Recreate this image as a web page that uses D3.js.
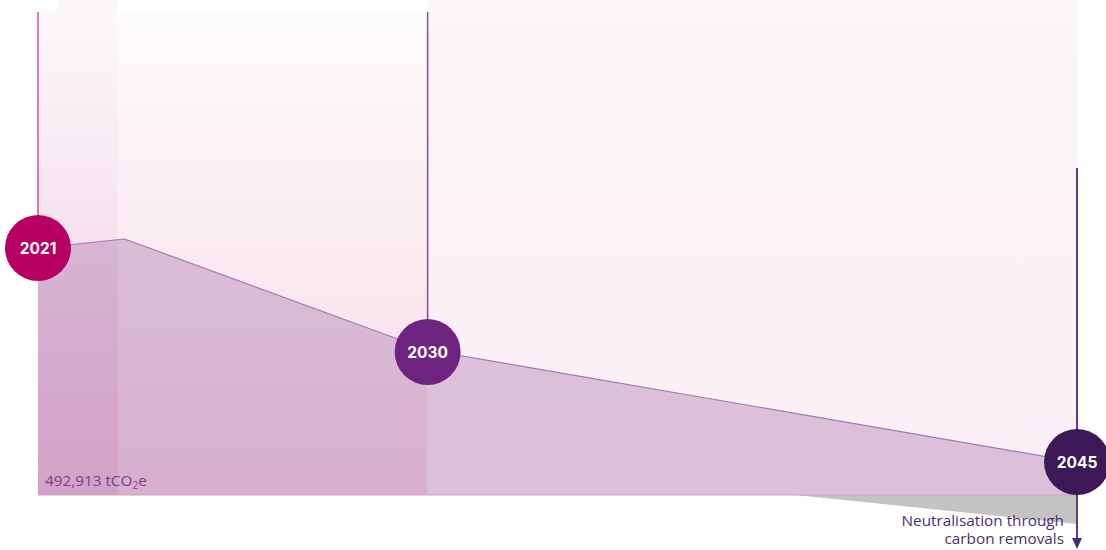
<!DOCTYPE html>
<meta charset="utf-8">
<script src="https://d3js.org/d3.v7.min.js"></script>
<style>
  body { margin: 0; background: #fff; }
</style>
<div id="chart"></div>
<script>
// emissions pathway
const years = [2021, 2023, 2030, 2045];
const emissions = [492913, 510900, 289400, 65900];

// neutralisation through carbon removals (below zero)
const removalYears = [2038.5, 2045];
const removals = [0, -57900];

// milestone bubbles
const milestones = [2021, 2030, 2045];
const milestoneValues = [492913, 289400, 65900];
const milestoneColors = ["#b80062", "#6f2380", "#3d1858"];
const lineColors = ["#d4509a", "#8a4a9a", "#5e3a80"];

// background phases (year spans)
const phaseStart = [2021, 2022.85, 2030];
const phaseEnd = [2022.85, 2030, 2045];
const phaseBottom = ["#efc6dd", "#f6dae7", "#fbeff6"];
const phaseTop = ["#fcf9fb", "#fefcfd", "#fbf6f9"];

const width = 1106, height = 550;

const svg = d3.select("#chart").append("svg")
    .attr("width", width)
    .attr("height", height)
    .style("display", "block");

const x = d3.scaleLinear().domain([2021, 2045]).range([38, 1077]);
const y = d3.scaleLinear().domain([0, 492913]).range([495, 248]);

const defs = svg.append("defs");

phaseStart.forEach(function (s, i) {
    const g = defs.append("linearGradient")
        .attr("id", "phase" + i)
        .attr("x1", 0).attr("x2", 0).attr("y1", 0).attr("y2", 1);
    g.append("stop").attr("offset", "0%").attr("stop-color", phaseTop[i]);
    g.append("stop").attr("offset", "100%").attr("stop-color", phaseBottom[i]);
});

// background columns
svg.selectAll(".phase")
    .data(phaseStart)
    .enter().append("rect")
    .attr("class", "phase")
    .attr("x", function (d) { return x(d); })
    .attr("width", function (d, i) { return x(phaseEnd[i]) - x(d); })
    .attr("y", function (d, i) { return i == 2 ? 0 : 12; })
    .attr("height", function (d, i) { return i == 2 ? 495 : 483; })
    .attr("fill", function (d, i) { return "url(#phase" + i + ")"; });

// faint strip at top of first column
svg.append("rect")
    .attr("x", 57)
    .attr("y", 0)
    .attr("width", x(phaseEnd[0]) - 57)
    .attr("height", 12)
    .attr("fill", "#fbf6f9");

// removals wedge
const removalArea = d3.area()
    .x(function (d) { return x(d[0]); })
    .y0(y(0))
    .y1(function (d) { return y(d[1]); });

svg.append("path")
    .datum(d3.zip(removalYears, removals))
    .attr("d", removalArea)
    .attr("fill", "#c3c3c3");

// emissions area
const area = d3.area()
    .x(function (d) { return x(d[0]); })
    .y0(y(0))
    .y1(function (d) { return y(d[1]); });

const line = d3.line()
    .x(function (d) { return x(d[0]); })
    .y(function (d) { return y(d[1]); });

const pts = d3.zip(years, emissions);

svg.append("path")
    .datum(pts)
    .attr("d", area)
    .attr("fill", "#883d8e")
    .attr("fill-opacity", 0.27);

svg.append("path")
    .datum(pts)
    .attr("d", line)
    .attr("fill", "none")
    .attr("stroke", "#a677b4")
    .attr("stroke-width", 1.2);

svg.append("line")
    .attr("x1", x(2021)).attr("x2", x(2045))
    .attr("y1", y(0)).attr("y2", y(0))
    .attr("stroke", "#caa3ca")
    .attr("stroke-width", 1);

// vertical milestone lines
const lineTop = [12, 12, 168];
const lineBottom = [y(492913), y(289400), 540];

svg.selectAll(".mline")
    .data(milestones)
    .enter().append("line")
    .attr("class", "mline")
    .attr("x1", function (d) { return x(d); })
    .attr("x2", function (d) { return x(d); })
    .attr("y1", function (d, i) { return lineTop[i]; })
    .attr("y2", function (d, i) { return lineBottom[i]; })
    .attr("stroke", function (d, i) { return lineColors[i]; })
    .attr("stroke-width", function (d, i) { return i == 2 ? 2 : 1.5; });

// arrow head
svg.append("path")
    .attr("d", "M" + (x(2045) - 5) + ",538 L" + (x(2045) + 5) + ",538 L" + x(2045) + ",549 Z")
    .attr("fill", "#4a2d6e");

// bubbles
const bubbles = svg.selectAll(".bubble")
    .data(milestones)
    .enter().append("g")
    .attr("class", "bubble")
    .attr("transform", function (d, i) {
        return "translate(" + x(d) + "," + (y(milestoneValues[i]) + (i == 1 ? 2 : 0)) + ")";
    });

bubbles.append("circle")
    .attr("r", 33)
    .attr("fill", function (d, i) { return milestoneColors[i]; });

bubbles.append("text")
    .attr("text-anchor", "middle")
    .attr("dy", "0.36em")
    .attr("fill", "#fff")
    .attr("font-family", "Inter, sans-serif")
    .attr("font-weight", 700)
    .attr("font-size", "15.5px")
    .text(function (d) { return d; });

// baseline label
const base = svg.append("text")
    .attr("x", 45)
    .attr("y", 486)
    .attr("fill", "#7a3d8b")
    .attr("font-family", "'Open Sans', sans-serif")
    .attr("font-size", "15.3px");
base.append("tspan").text("492,913 tCO");
base.append("tspan").attr("font-size", "10px").attr("dy", 3).text("2");
base.append("tspan").attr("dy", -3).text("e");

// removals label
const rem = svg.append("text")
    .attr("text-anchor", "end")
    .attr("fill", "#4b2e6e")
    .attr("font-family", "'Open Sans', sans-serif")
    .attr("font-size", "15.3px");
rem.append("tspan").attr("x", 1064).attr("y", 526).text("Neutralisation through");
rem.append("tspan").attr("x", 1064).attr("y", 544).text("carbon removals");
</script>
